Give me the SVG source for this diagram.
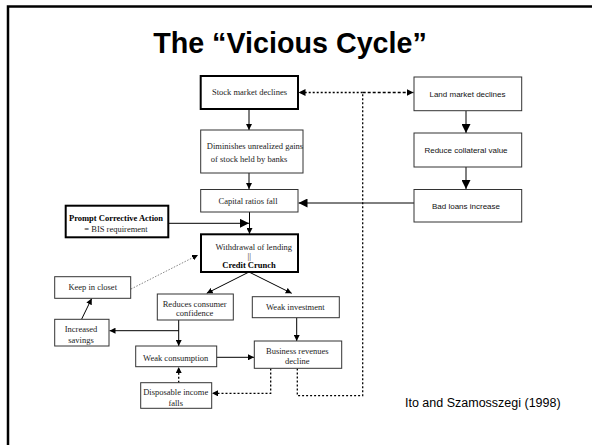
<svg xmlns="http://www.w3.org/2000/svg" width="592" height="445" viewBox="0 0 592 445">
<defs>
<style>
.bg{fill:#fff}
.frame{stroke:#000;stroke-width:2.5;fill:none}
.box{fill:#fff;stroke:#333;stroke-width:1}
.bold{fill:#fff;stroke:#000;stroke-width:2}
.t{font-family:"Liberation Serif","Times New Roman",serif;font-size:8.5px;fill:#222;text-anchor:middle}
.tb{font-weight:bold;fill:#000}
.s{font-family:"Liberation Sans",Arial,sans-serif;font-size:8px;fill:#111;text-anchor:middle}
.ln{stroke:#000;stroke-width:1;fill:none}
.dot{stroke:#000;stroke-width:1.3;fill:none;stroke-dasharray:2 2}
.dash{stroke:#000;stroke-width:1.3;fill:none;stroke-dasharray:3 2}
.gdot{stroke:#666;stroke-width:0.8;fill:none;stroke-dasharray:1.5 1.5}
</style>
<marker id="a" viewBox="0 0 10 10" refX="10" refY="5" markerWidth="6" markerHeight="6" markerUnits="userSpaceOnUse" orient="auto"><path d="M0,0L10,5L0,10z" fill="#000"/></marker>
<marker id="aL" viewBox="0 0 10 10" refX="10" refY="5" markerWidth="9" markerHeight="9" markerUnits="userSpaceOnUse" orient="auto"><path d="M0,0L10,5L0,10z" fill="#000"/></marker>
<marker id="aS" viewBox="0 0 10 10" refX="10" refY="5" markerWidth="7" markerHeight="7" markerUnits="userSpaceOnUse" orient="auto-start-reverse"><path d="M0,0L10,5L0,10z" fill="#000"/></marker>
</defs>
<rect class="bg" width="592" height="445"/>
<path class="frame" d="M8,445V6.5H592"/>
<text x="290" y="53" font-family="Liberation Sans,Arial,sans-serif" font-size="28.7" font-weight="bold" text-anchor="middle" fill="#000">The “Vicious Cycle”</text>

<g id="connectors">
<path class="ln" d="M249,109V130" marker-end="url(#a)"/>
<path class="ln" d="M249,173V189" marker-end="url(#a)"/>
<path class="ln" d="M249.5,212V234" marker-end="url(#a)"/>
<path class="ln" d="M168.5,223.3H249" stroke-width="1.5" marker-end="url(#aL)"/>
<path class="ln" d="M466,111V133" marker-end="url(#aL)"/>
<path class="ln" d="M466,167V189" marker-end="url(#aL)"/>
<path class="ln" d="M414,203H298.5" marker-end="url(#aL)"/>
<path class="dot" d="M362.7,92.5H298.5" marker-end="url(#aS)"/>
<path class="dash" d="M362.7,92.5H413.5" marker-end="url(#aS)"/>
<path class="dot" d="M297.3,368.5V395.7H362.7V92.5"/>
<path class="dot" d="M270.7,368.5V393.3H212" marker-end="url(#a)"/>
<path class="dot" d="M178.7,382.7V367" marker-end="url(#a)"/>
<path class="gdot" d="M131,289L198,255" marker-end="url(#a)"/>
<path class="ln" d="M249,272L206.7,293.3" marker-end="url(#a)"/>
<path class="ln" d="M249,272L291.7,293.3" marker-end="url(#a)"/>
<path class="ln" d="M178.7,320V346" marker-end="url(#a)"/>
<path class="ln" d="M178.7,330.7H109.5" marker-end="url(#a)"/>
<path class="ln" d="M81.7,319L91.7,298.5" marker-end="url(#a)"/>
<path class="ln" d="M216.7,357.3H254" marker-end="url(#a)"/>
<path class="ln" d="M296.7,317.7V341" marker-end="url(#a)"/>
</g>

<g id="stock"><rect class="bold" x="200.7" y="76" width="97.3" height="33"/><text class="t" x="249.5" y="95">Stock market declines</text></g>
<g id="diminishes"><rect class="box" x="200.7" y="130" width="102.3" height="43"/><text class="t" x="255" y="149">Diminishes unrealized gains</text><text class="t" x="249" y="162">of stock held by banks</text></g>
<g id="capital"><rect class="box" x="200.7" y="189.5" width="97.3" height="22.5"/><text class="t" x="248" y="204">Capital ratios fall</text></g>
<g id="prompt"><rect class="bold" x="65.7" y="205.7" width="102.6" height="31.6"/><text class="t tb" x="116" y="221">Prompt Corrective Action</text><text class="t" x="116" y="232">= BIS requirement</text></g>
<g id="withdrawal"><rect class="bold" x="201" y="234.3" width="97" height="37.7"/><text class="t" x="253.7" y="250">Withdrawal of lending</text><text class="t" x="249.3" y="258.5">||</text><text class="t tb" x="249" y="268">Credit Crunch</text></g>
<g id="land"><rect class="box" x="414" y="77" width="107.7" height="33.7"/><text class="s" x="467.5" y="97">Land market declines</text></g>
<g id="collateral"><rect class="box" x="414" y="133" width="107.7" height="34"/><text class="s" x="466" y="153">Reduce collateral value</text></g>
<g id="badloans"><rect class="box" x="414" y="189.5" width="107.7" height="32.5"/><text class="s" x="466" y="209">Bad loans increase</text></g>
<g id="closet"><rect class="box" x="54.7" y="276.7" width="76" height="21.6"/><text class="t" x="92.7" y="290">Keep in closet</text></g>
<g id="reduces"><rect class="box" x="157.3" y="294" width="76" height="26"/><text class="t" x="194.7" y="307">Reduces consumer</text><text class="t" x="194.7" y="316">confidence</text></g>
<g id="investment"><rect class="box" x="252.3" y="296.7" width="87" height="21"/><text class="t" x="295.3" y="309.5">Weak investment</text></g>
<g id="savings"><rect class="box" x="54.7" y="319.3" width="54.3" height="26.7"/><text class="t" x="81" y="332">Increased</text><text class="t" x="81" y="343">savings</text></g>
<g id="consumption"><rect class="box" x="135.7" y="346" width="81" height="20.7"/><text class="t" x="175.7" y="361">Weak consumption</text></g>
<g id="business"><rect class="box" x="254.3" y="341" width="87.4" height="27.3"/><text class="t" x="297.3" y="353.5">Business revenues</text><text class="t" x="297.3" y="363.5">decline</text></g>
<g id="disposable"><rect class="box" x="140.7" y="382.7" width="71" height="25.6"/><text class="t" x="175.7" y="395">Disposable income</text><text class="t" x="175.7" y="405.5">falls</text></g>

<text x="405" y="407" font-family="Liberation Sans,Arial,sans-serif" font-size="12.5" fill="#000">Ito and Szamosszegi (1998)</text>
</svg>
